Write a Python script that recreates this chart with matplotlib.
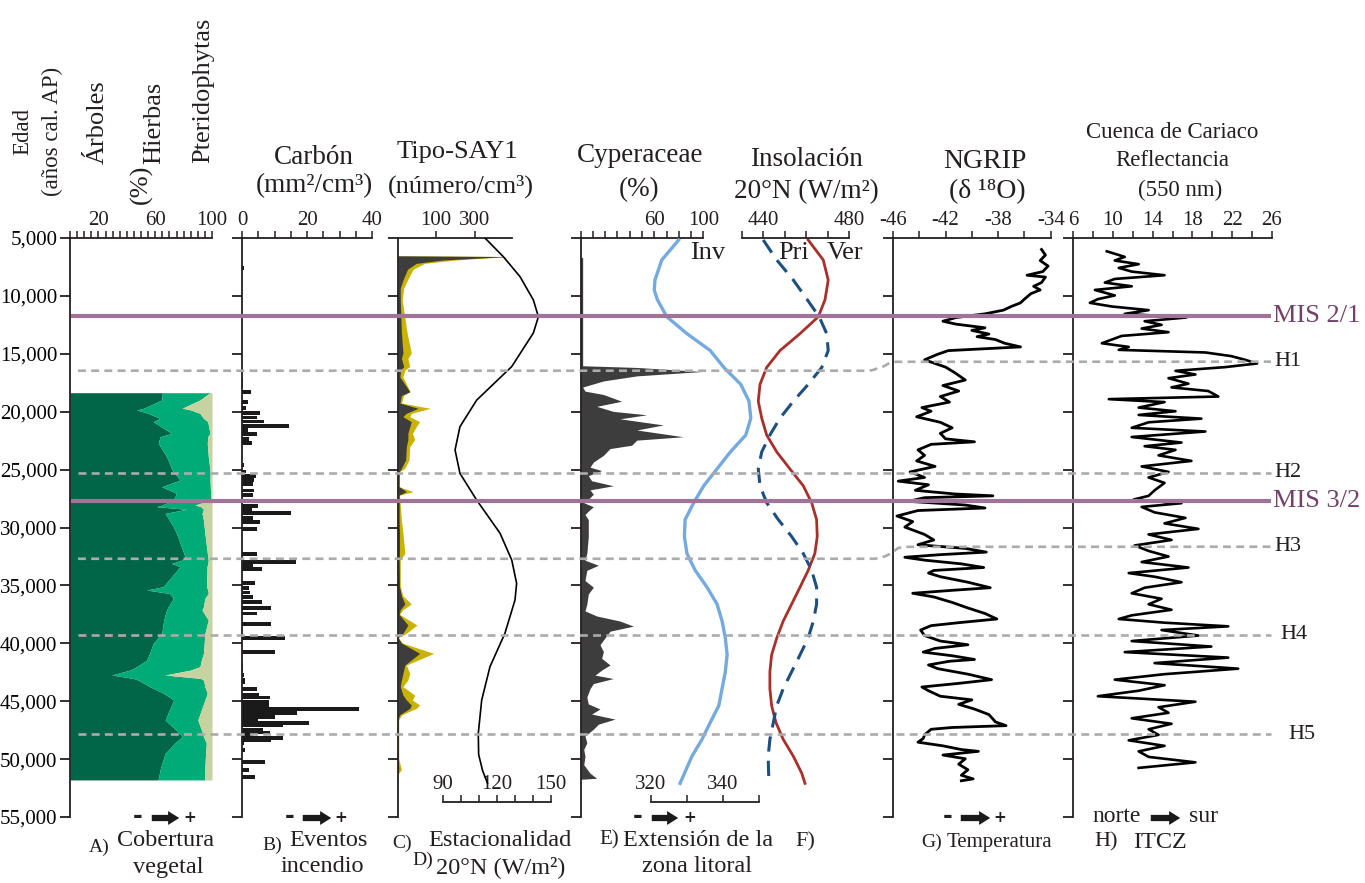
import numpy as np
import matplotlib
matplotlib.use("Agg")
import matplotlib.pyplot as plt
from matplotlib.patches import FancyArrowPatch
from matplotlib.ticker import FuncFormatter

plt.rcParams['font.family'] = ['Liberation Serif', 'DejaVu Serif']
plt.rcParams['mathtext.fontset'] = 'custom'
plt.rcParams['mathtext.rm'] = 'Liberation Serif'
plt.rcParams['mathtext.it'] = 'Liberation Serif:italic'
plt.rcParams['axes.unicode_minus'] = False

# ---- vegetation cover (%), cumulative boundaries ----
veg_age = [18360, 18990, 19700, 19850, 20140, 20570, 20860, 21870, 22160, 22730,
           23880, 25040, 25900, 26480, 27050, 27630, 28060, 28200, 28430, 28780,
           29360, 29930, 30510, 32520, 32810, 33100, 33390, 35110, 35400, 35690,
           36120, 36840, 37130, 38000, 39140, 40010, 40870, 41450, 42020, 42310,
           42740, 43030, 43170, 43750, 44320, 44900, 46625, 47630, 48065, 48600,
           49500, 50655, 51800]
arboles = [65, 64.6, 52, 47, 55, 63.4, 58.7, 71.6, 63.4, 62.2,
           68, 72, 77.5, 64.6, 75, 72.8, 65, 61, 82, 67,
           70, 72.8, 75, 81, 79, 71.6, 77.5, 65.7, 54, 70,
           72.8, 69.2, 68, 66, 64.6, 58.7, 56, 54, 47, 42.3,
           29.3, 44.6, 48, 56.3, 66, 73, 67, 76, 79, 74,
           67, 64, 62]
hierbas = [98.6, 91.5, 79, 85, 91.5, 94, 97, 98.6, 97, 96.7,
           97.4, 98.6, 98.6, 98.8, 99, 99, 88, 92, 94, 93,
           94, 94.5, 95, 97, 97.4, 97, 96.5, 96.2, 97, 97.4,
           95, 94, 93, 97.4, 95, 94.5, 94, 92.5, 91.5, 85,
           67, 92, 94, 95, 96.7, 95, 90, 93, 94, 96,
           95.5, 95, 95]

# ---- charcoal (mm2/cm3) ----
carbon = [(7600, 0.5), (17260, 0.4), (17700, 0.4), (18270, 2.8), (19130, 1.9),
          (19700, 1.2), (20140, 5.6), (20500, 4.5), (20850, 6.8), (21240, 14.4),
          (21600, 1.9), (21960, 4.5), (22340, 2.3), (22720, 3.1), (24600, 0.6),
          (25170, 1.2), (25550, 4.3), (25880, 3.8), (26230, 3.3), (26800, 3.6),
          (27170, 3.3), (27740, 13.5), (28140, 4.8), (28430, 3.0), (28780, 15.0),
          (29150, 3.3), (29500, 5.6), (30100, 4.5), (32320, 4.5), (32950, 16.6),
          (33240, 3.3), (33560, 6.0), (34820, 3.9), (35220, 2.3), (35620, 2.5),
          (36020, 3.3), (36460, 6.0), (36930, 8.8), (37420, 4.5), (38340, 8.8),
          (39550, 13.2), (40730, 10.3), (41880, 0.4), (42310, 0.4), (42740, 0.7),
          (43120, 0.9), (43380, 1.0), (43980, 4.5), (44420, 5.1), (44680, 8.6),
          (45050, 8.2), (45340, 8.2), (45700, 35.9), (46050, 17.0), (46340, 10.0),
          (46630, 4.8), (46900, 20.7), (47100, 12.5), (47480, 6.4), (47700, 8.6),
          (47910, 3.3), (48150, 12.5), (48400, 9.0), (48640, 0.7), (49215, 1.0),
          (50280, 7.1), (50945, 2.0), (51520, 4.1)]

# ---- Tipo-SAY1 (numero/cm3) ----
say_age = [6540, 6600, 6900, 7190, 7700, 8630, 9320, 10350, 13200, 14930,
           15400, 16100, 16400, 17000, 18270, 18600, 19250, 19710, 20150, 20430,
           20860, 21300, 21870, 22400, 23020, 24170, 24890, 25180, 26480, 26900,
           27200, 29350, 30500, 32230, 32800, 35110, 35900, 36600, 37100, 37500,
           38420, 39140, 39500, 39970, 40870, 41880, 42600, 43170, 43750, 44470,
           44900, 45330, 45620, 46190, 46600, 48000, 50000, 50900, 51200, 51500]
say_gris = [0, 465, 136, 48, 25, 13, 6, 6, 9, 13,
            9, 15, 7, 5, 31, 9, 5, 53, 21, 13,
            35, 31, 26, 26, 22, 20, 9, 3, 3, 22,
            3, 3, 4, 4, 3, 4, 9, 18, 6, 3,
            26, 13, 0, 9, 57, 18, 13, 9, 6, 13,
            22, 35, 31, 4, 0, 1, 1, 2, 1, 0]
say_amarillo = [0, 470, 200, 70, 40, 25, 15, 11, 24, 35,
                26, 31, 18, 13, 32, 15, 9, 85, 35, 31,
                57, 48, 38, 44, 31, 29, 18, 4, 3, 40,
                4, 9, 13, 18, 6, 6, 13, 35, 13, 4,
                50, 22, 1, 11, 94, 22, 31, 26, 13, 44,
                38, 57, 48, 9, 2, 2, 2, 9, 2, 0]

# ---- seasonality 20N (W/m2) ----
est_age = [5000, 6610, 8340, 10350, 11800, 13200, 16100, 19000, 21300, 23300,
           25320, 27630, 30500, 32810, 34820, 36260, 39140, 42020, 44900, 47780,
           49600, 51000, 52070]
est_val = [113.3, 123.5, 132.8, 140.2, 143.0, 140.2, 128.2, 108.7, 99.4, 96.7,
           99.4, 108.7, 121.7, 128.2, 130.9, 130.0, 124.4, 116.1, 111.5, 109.6,
           109.8, 112.0, 114.7]

# ---- Cyperaceae (%) ----
cyp_age = [6650, 6700, 16032, 16178, 16528, 16908, 17346, 17872, 18222, 18514,
           19098, 19536, 19974, 20266, 20616, 21142, 21580, 22164, 22456, 22894,
           23186, 23770, 24354, 24792, 25084, 25522, 25960, 26398, 26748, 27128,
           27566, 27858, 28208, 28588, 28880, 29318, 30778, 32238, 32822, 33260,
           33698, 34574, 35158, 35742, 36618, 37202, 37640, 38078, 38516, 38954,
           39538, 40122, 40706, 41290, 41874, 42312, 42750, 43042, 43480, 43918,
           44648, 45232, 45670, 46108, 46546, 46984, 47422, 48006, 48590, 49174,
           49758, 50488, 51218, 51656, 51744]
cyp_val = [0, 1.6, 1.6, 45.7, 99, 45.7, 18.5, 1.6, 3.5, 18.5,
           33.4, 13, 26.6, 53.8, 32, 67.4, 45.7, 83.7, 45.7, 41.6,
           23.9, 18.5, 10.3, 7.6, 17.1, 6.2, 8.9, 26.6, 7.6, 10.3,
           6.2, 2.5, 10.3, 6.2, 3.5, 6.2, 6.2, 5, 3.5, 14.4,
           5, 3.5, 10.3, 6.2, 5, 3.5, 13, 32, 43, 23.9,
           19.8, 15.7, 18.5, 17.1, 23.9, 17.1, 11.7, 26.6, 10.3, 7.6,
           5, 6.2, 15.7, 8.9, 28, 14.4, 10.3, 3.5, 5, 2.5,
           3.5, 2.5, 7.6, 13, 0]

# ---- littoral zone extent (winter insolation) ----
inv_age = [5170, 6900, 8630, 9500, 10338, 11798, 13258, 14718, 16178, 17638,
           19098, 20558, 22018, 23478, 24938, 26398, 27858, 29318, 30778, 32238,
           33698, 35158, 36618, 38078, 39538, 40998, 42458, 43918, 45378, 46838,
           48298, 49758, 52094]
inv_val = [327.7, 323.0, 321.1, 320.9, 321.8, 324.4, 330.0, 336.5, 340.3, 345.0,
           347.3, 347.8, 346.4, 342.1, 338.4, 334.7, 331.9, 329.5, 329.3, 330.0,
           332.3, 335.6, 338.4, 339.8, 340.7, 341.2, 340.7, 339.8, 338.9, 336.5,
           334.2, 331.4, 328.1]

# ---- insolation 20N: spring and summer (W/m2) ----
ins_age = [5170, 6900, 8630, 10338, 11798, 13258, 14718, 16178, 17638, 19098,
           20558, 22018, 23478, 24938, 26398, 27858, 29318, 30778, 32238, 33698,
           35158, 36618, 38078, 39538, 40998, 42458, 43918, 45378, 46838, 48298,
           49758, 51218, 52094]
ver_val = [460.9, 467.9, 470.2, 468.7, 465.6, 457.1, 447.8, 441.6, 438.5, 437.7,
           439.3, 441.6, 446.3, 452.4, 458.6, 462.5, 464.8, 465.1, 464.0, 460.9,
           457.1, 453.2, 449.3, 446.3, 443.9, 443.1, 443.1, 443.9, 445.9, 449.3,
           454.0, 457.9, 459.4]
pri_val = [440.0, 446.3, 454.0, 460.5, 466.0, 469.5, 470.2, 467.2, 460.9, 454.0,
           447.8, 443.1, 439.3, 437.7, 438.5, 441.6, 447.0, 453.2, 458.6, 462.5,
           464.8, 464.8, 463.3, 460.9, 457.1, 453.2, 449.3, 446.3, 444.7, 443.1,
           442.3, 442.5, 442.8]

# ---- NGRIP d18O ----
ngrip = [(5990, -34.7), (6470, -34.4), (6950, -34.8), (7420, -34.2), (7900, -34.6),
         (8215, -35.8), (8375, -34.4), (8850, -34.7), (9170, -35.3), (9485, -34.8),
         (9800, -35.5), (10280, -36.0), (10600, -36.3), (10915, -37.0), (11230, -37.6),
         (11550, -39.0), (11865, -41.2), (12185, -42.2), (12440, -41.2), (12755, -39.0),
         (12980, -40.0), (13295, -38.7), (13520, -39.6), (13770, -38.2), (14090, -37.5),
         (14405, -36.3), (14565, -39.0), (14725, -41.8), (15040, -42.6), (15520, -43.6),
         (15835, -42.8), (16150, -42.0), (16630, -41.3), (17265, -40.5), (17740, -42.2),
         (18215, -41.0), (18690, -42.4), (19170, -41.7), (19645, -43.8), (19960, -43.1),
         (20440, -44.2), (20915, -42.4), (21390, -41.5), (21870, -42.4), (22345, -42.0),
         (22600, -39.8), (22820, -43.1), (23295, -44.1), (23770, -43.6), (24250, -44.2),
         (24725, -42.8), (25200, -44.7), (25680, -43.6), (25995, -45.6), (26310, -43.3),
         (26790, -44.3), (27105, -41.3), (27265, -38.4), (27425, -43.6), (27740, -44.8),
         (28060, -40.5), (28315, -39.0), (28535, -44.1), (29010, -45.7), (29490, -44.5),
         (29965, -45.1), (30600, -43.6), (31075, -42.9), (31490, -44.1), (31805, -40.5),
         (32125, -38.9), (32345, -42.4), (32570, -45.1), (32820, -43.6), (33140, -40.8),
         (33455, -39.1), (33710, -42.9), (33935, -43.3), (34250, -42.4), (34725, -40.3),
         (35200, -38.6), (35425, -41.5), (35680, -44.5), (35995, -42.9), (36470, -41.5),
         (36950, -40.3), (37425, -39.0), (37900, -38.1), (38220, -41.0), (38475, -43.1),
         (38855, -43.9), (39330, -43.6), (39805, -42.4), (40125, -40.3), (40440, -42.8),
         (40760, -43.7), (41075, -41.5), (41395, -39.8), (41550, -41.7), (41870, -43.3),
         (42190, -42.6), (42665, -40.3), (43140, -38.5), (43460, -41.0), (43775, -43.8),
         (44095, -43.3), (44570, -42.4), (44885, -40.0), (45270, -41.0), (45680, -39.8),
         (46155, -38.7), (46790, -38.2), (47110, -37.4), (47270, -41.5), (47425, -43.1),
         (47905, -43.6), (48220, -43.7), (48540, -44.1), (48855, -42.2), (49175, -40.8),
         (49330, -39.5), (49650, -42.2), (49970, -40.5), (50440, -41.0), (50920, -40.3),
         (51395, -40.8), (51710, -39.9), (51870, -40.8)]

# ---- Cariaco basin reflectance (550 nm) ----
cariaco = [(6150, 9.4), (6630, 11.2), (6945, 10.2), (7260, 12.6), (7580, 10.6),
           (7900, 11.9), (8215, 15.2), (8535, 10.2), (8850, 9.2), (9170, 11.9),
           (9485, 8.2), (9960, 10.2), (10280, 8.5), (10600, 7.7), (10915, 9.9),
           (11230, 13.6), (11550, 11.2), (11865, 17.4), (12185, 13.2), (12500, 14.9),
           (12820, 12.9), (13135, 15.6), (13455, 10.9), (13770, 9.9), (14090, 8.9),
           (14405, 11.6), (14660, 10.6), (14885, 19.3), (15200, 21.9), (15520, 23.3),
           (15835, 24.5), (16150, 21.3), (16470, 16.3), (16785, 18.3), (17105, 15.6),
           (17580, 17.6), (17900, 15.9), (18215, 19.6), (18690, 20.6), (18915, 9.6),
           (19170, 15.2), (19645, 12.6), (19960, 16.3), (20280, 12.6), (20600, 18.9),
           (20915, 13.6), (21390, 11.9), (21710, 19.3), (22185, 11.9), (22665, 16.9),
           (22980, 13.2), (23295, 16.3), (23770, 14.6), (24250, 17.9), (24725, 12.9),
           (25200, 15.6), (25680, 13.6), (26150, 15.2), (26790, 14.2), (27265, 13.6),
           (27585, 12.1), (27900, 16.9), (28220, 12.9), (28695, 14.2), (29170, 17.3),
           (29645, 15.2), (30120, 18.6), (30600, 13.6), (31075, 15.9), (31550, 12.2),
           (32025, 13.6), (32505, 15.6), (32980, 12.9), (33455, 17.6), (33935, 11.6),
           (34250, 14.2), (34725, 16.9), (35200, 13.2), (35680, 11.9), (36155, 14.9),
           (36630, 13.6), (37105, 15.9), (37585, 11.9), (37900, 10.6), (38220, 15.2),
           (38535, 21.6), (38855, 14.9), (39330, 18.6), (39805, 11.9), (40280, 19.9),
           (40760, 11.2), (41235, 21.6), (41710, 14.2), (42190, 22.6), (42665, 15.2),
           (43140, 10.2), (43620, 15.2), (44095, 12.6), (44570, 8.5), (45045, 18.3),
           (45520, 14.6), (46000, 15.6), (46475, 11.9), (46950, 15.9), (47425, 13.6),
           (47905, 14.6), (48380, 11.6), (48855, 15.2), (49330, 12.6), (49810, 13.6),
           (50280, 18.3), (50760, 12.6)]

# ---- event horizons (age, cal BP) ----
mis_21, mis_32 = 11710, 27740
h_straight = {'H2': 25270, 'H4': 39260, 'H5': 47870}
h1_left, h1_right = 16460, 15680
h3_left, h3_right = 32700, 31660

W, H = 1365, 883
TOP, BOT = 238, 817
INK = '#231F20'
DARK_G, MID_G, KHAKI = '#006647', '#00AB78', '#C6D3A0'
GRIS, AMAR = '#3D3D3D', '#C9B200'
PURPLE, PURPLE_TXT, DASH_C = '#A07497', '#71416A', '#ABABAB'

fig = plt.figure(figsize=(W / 100, H / 100), dpi=100)


def fx(x):
    return x / W


def fy(y):
    return 1 - y / H


def ftxt(x, y, s, **kw):
    kw.setdefault('ha', 'center')
    kw.setdefault('va', 'center')
    kw.setdefault('color', INK)
    fig.text(fx(x), fy(y), s, **kw)


def panel(x0, x1, spines=('left', 'top')):
    ax = fig.add_axes([fx(x0), fy(BOT), (x1 - x0) / W, (BOT - TOP) / H])
    ax.set_ylim(55000, 5000)
    ax.patch.set_visible(False)
    for name, sp in ax.spines.items():
        sp.set_visible(name in spines)
        sp.set_linewidth(1.3)
        sp.set_color(INK)
    if 'left' in spines:
        ax.set_yticks(np.arange(5000, 55001, 5000))
        ax.tick_params(axis='y', length=7, width=1.3, color=INK, labelleft=False)
    else:
        ax.set_yticks([])
    ax.xaxis.tick_top()
    ax.tick_params(axis='x', length=5, width=1.1, color=INK, pad=1,
                   labelsize=15, labelcolor=INK)
    return ax


def top_ticks(ax, ticks, labeled):
    ax.set_xticks(ticks)
    ax.set_xticklabels([str(t) if t in labeled else '' for t in ticks])


# A) vegetation cover
axA = panel(70, 212)
axA.set_xlim(0, 100)
top_ticks(axA, list(range(0, 101, 5)), [20, 60, 100])
axA.tick_params(axis='y', labelleft=True, labelsize=15, pad=2)
axA.yaxis.set_major_formatter(FuncFormatter(lambda v, p: f'{int(v):,}'))
axA.fill_betweenx(veg_age, 0, arboles, color=DARK_G, lw=0)
axA.fill_betweenx(veg_age, arboles, hierbas, color=MID_G, lw=0)
axA.fill_betweenx(veg_age, hierbas, 100, color=KHAKI, lw=0)

# B) charcoal
axB = panel(242, 372)
axB.set_xlim(0, 40)
top_ticks(axB, list(range(0, 41, 5)), [0, 20, 40])
c_age, c_val = np.array(carbon).T
axB.barh(c_age, c_val, height=330, color='#1A1A1A', lw=0)


# C) Tipo-SAY1, stretched below 100
def say_fwd(x):
    x = np.asarray(x, dtype=float)
    return np.where(x < 100, 0.38 * x, 38 + (x - 100) * 0.195)


def say_inv(u):
    u = np.asarray(u, dtype=float)
    return np.where(u < 38, u / 0.38, 100 + (u - 38) / 0.195)


axC = panel(398, 512)
axC.set_xscale('function', functions=(say_fwd, say_inv))
axC.set_xlim(0, 490)
top_ticks(axC, [100, 300], [100, 300])
axC.fill_betweenx(say_age, 0, say_amarillo, color=AMAR, lw=0)
axC.fill_betweenx(say_age, 0, say_gris, color=GRIS, lw=0)

# D) seasonality curve with its own scale bar
axD = panel(443, 551, spines=('top',))
axD.set_xlim(90, 150)
axD.spines['top'].set_position(('data', 53700))
top_ticks(axD, list(range(90, 151, 10)), [90, 120, 150])
axD.plot(est_val, est_age, color='black', lw=1.2)

# E) Cyperaceae
axE = panel(580.7, 703.3)
axE.set_xlim(0, 100)
top_ticks(axE, list(range(0, 101, 10)), [60, 100])
axE.fill_betweenx(cyp_age, 0, cyp_val, color=GRIS, lw=0)

axI = panel(651, 758.7, spines=('top',))
axI.set_xlim(320, 350)
axI.spines['top'].set_position(('data', 53700))
top_ticks(axI, [320, 330, 340, 350], [320, 340])
axI.plot(inv_val, inv_age, color='#74AADF', lw=2.4)

# F) insolation
axF = panel(741.7, 849.3, spines=('top',))
axF.set_xlim(430, 480)
top_ticks(axF, list(range(430, 481, 10)), [440, 480])
axF.plot(ver_val, ins_age, color='#A8302A', lw=2.0)
axF.plot(pri_val, ins_age, color='#1D4F80', lw=2.2, dashes=(5, 3))

# G) NGRIP
axG = panel(893, 1050.7)
axG.set_xlim(-46, -34)
top_ticks(axG, list(range(-46, -33, 2)), [-46, -42, -38, -34])
g_age, g_val = np.array(ngrip).T
axG.plot(g_val, g_age, color='black', lw=2.0)

# H) Cariaco
axH = panel(1073, 1272)
axH.set_xlim(6, 26)
top_ticks(axH, list(range(6, 27, 2)), [6, 10, 14, 18, 22, 26])
h_age, h_val = np.array(cariaco).T
axH.plot(h_val, h_age, color='black', lw=1.9)

# horizon lines across all panels
ov = fig.add_axes([0, fy(BOT), 1, (BOT - TOP) / H], zorder=5)
ov.set_xlim(0, W)
ov.set_ylim(55000, 5000)
ov.axis('off')
for age, lab in ((mis_21, 'MIS 2/1'), (mis_32, 'MIS 3/2')):
    ov.plot([71, 1271], [age, age], color=PURPLE, lw=3.0, solid_capstyle='butt')
    ov.text(1273, age, lab, color=PURPLE_TXT, fontsize=19, va='center', ha='left')

dash_kw = dict(color=DASH_C, lw=1.9, dashes=(3, 2))
h1_y = [h1_left, h1_left, h1_left - 40, h1_left - 210, (h1_left + h1_right) / 2,
        h1_right + 90, h1_right + 10, h1_right]
ov.plot([78, 866, 872, 878, 884, 890, 896, 1271], h1_y, **dash_kw)
ov.text(1274, h1_right, 'H1', fontsize=16, va='center', ha='left', color=INK)
h3_y = [h3_left, h3_left, h3_left - 60, h3_left - 250, (h3_left + h3_right) / 2,
        h3_right + 120, h3_right + 10, h3_right]
ov.plot([78, 874, 880, 886, 892, 898, 904, 1271], h3_y, **dash_kw)
ov.text(1274, h3_right, 'H3', fontsize=16, va='center', ha='left', color=INK)
for lab, age in h_straight.items():
    ov.plot([78, 1271], [age, age], **dash_kw)
    ov.text(1274 if lab == 'H2' else (1280 if lab == 'H4' else 1288), age, lab,
            fontsize=16, va='center', ha='left', color=INK)

# headers
ftxt(23, 131, 'Edad', rotation=90, fontsize=16.5)
ftxt(52, 131, '(años cal. AP)', rotation=90, fontsize=16.5)
ftxt(98, 122, 'Árboles', rotation=90, fontsize=19)
ftxt(154, 123, 'Hierbas', rotation=90, fontsize=19)
ftxt(141, 184, '(%)', rotation=90, fontsize=19)
ftxt(203, 90, 'Pteridophytas', rotation=90, fontsize=19)

ftxt(314, 157, 'Carbón', fontsize=19.5)
ftxt(314, 186, '(mm²/cm³)', fontsize=19.5)
ftxt(457, 152, 'Tipo-SAY1', fontsize=19)
ftxt(461, 186, '(número/cm³)', fontsize=19)
ftxt(640, 156, 'Cyperaceae', fontsize=19.5)
ftxt(639, 190, '(%)', fontsize=19.5)
ftxt(806, 160, 'Insolación', fontsize=19.5)
ftxt(806, 192, '20°N (W/m²)', fontsize=19.5)
ftxt(985, 162, 'NGRIP', fontsize=20)
ftxt(987, 192, '(δ ¹⁸O)', fontsize=20)
ftxt(1172, 132, 'Cuenca de Cariaco', fontsize=16.5)
ftxt(1172, 160, 'Reflectancia', fontsize=16.5)
ftxt(1180, 190, '(550 nm)', fontsize=16.5)

ftxt(690, 253, 'Inv', fontsize=19, ha='left')
ftxt(778, 253, 'Pri', fontsize=19, ha='left')
ftxt(827, 253, 'Ver', fontsize=19, ha='left')


# direction arrows under the panels
def arrow_row(x_minus, x0, x1, x_plus, y=818):
    ftxt(x_minus, y - 2, '-', family='DejaVu Sans', fontweight='bold', fontsize=17)
    ftxt(x_plus, y, '+', family='DejaVu Sans', fontweight='bold', fontsize=11)
    fig.add_artist(FancyArrowPatch((fx(x0), fy(y)), (fx(x1), fy(y)),
                                   transform=fig.transFigure, color='#1A1A1A',
                                   arrowstyle='simple,head_width=1.0,head_length=0.8,tail_width=0.45',
                                   mutation_scale=10, lw=0))


arrow_row(138, 149, 182, 190)
arrow_row(290, 300, 334, 341)
arrow_row(638, 649, 681, 690)
arrow_row(948, 958, 993, 1000)
ftxt(1117, 816, 'norte', fontsize=17)
fig.add_artist(FancyArrowPatch((fx(1148), fy(818)), (fx(1183), fy(818)),
                               transform=fig.transFigure, color='#1A1A1A',
                               arrowstyle='simple,head_width=1.0,head_length=0.8,tail_width=0.45',
                               mutation_scale=10, lw=0))
ftxt(1203, 816, 'sur', fontsize=17)

# panel captions
ftxt(99, 847, 'A)', fontsize=14)
ftxt(166, 840, 'Cobertura', fontsize=17.5)
ftxt(168, 867, 'vegetal', fontsize=17.5)
ftxt(272, 845, 'B)', fontsize=14)
ftxt(328, 840, 'Eventos', fontsize=17.5)
ftxt(322, 867, 'incendio', fontsize=17.5)
ftxt(402, 843, 'C)', fontsize=14)
ftxt(423, 860, 'D)', fontsize=14)
ftxt(500, 840, 'Estacionalidad', fontsize=17.5)
ftxt(501, 867, '20°N (W/m²)', fontsize=17.5)
ftxt(609, 840, 'E)', fontsize=15)
ftxt(698, 840, 'Extensión de la', fontsize=17.5)
ftxt(697, 867, 'zona litoral', fontsize=17.5)
ftxt(805, 842, 'F)', fontsize=16)
ftxt(932, 842, 'G)', fontsize=14)
ftxt(999, 842, 'Temperatura', fontsize=15)
ftxt(1106, 842, 'H)', fontsize=16)
ftxt(1160, 842, 'ITCZ', fontsize=17.5)

fig.savefig('out.png', dpi=100)
